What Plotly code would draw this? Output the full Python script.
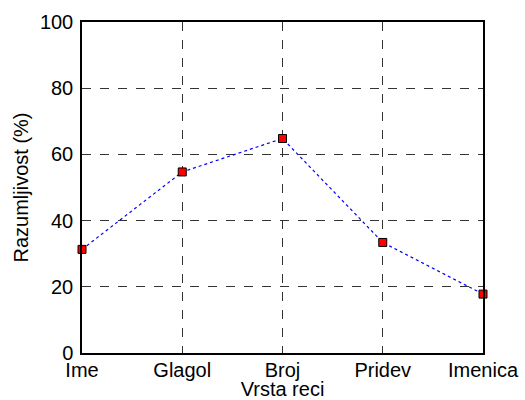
import plotly.graph_objects as go

categories = ["Ime", "Glagol", "Broj", "Pridev", "Imenica"]
razumljivost = [31.3, 54.7, 64.8, 33.4, 17.8]
y_ticks = [0, 20, 40, 60, 80, 100]

fig = go.Figure()
fig.add_trace(go.Scatter(
    x=list(range(len(categories))), y=razumljivost,
    mode="lines+markers",
    line=dict(color="blue", width=1.2, dash="dot"),
    marker=dict(symbol="square", size=8, color="red", line=dict(color="black", width=1)),
    cliponaxis=False,
))

FONT = "Liberation Sans, Arial"
axis_common = dict(
    showline=True, linecolor="black", linewidth=1.5, mirror=True,
    showgrid=True, gridcolor="#333333", griddash="dash", gridwidth=1,
    zeroline=False, ticks="", automargin=False,
    tickfont=dict(family=FONT, size=20, color="black"),
)

fig.update_layout(
    width=525, height=400,
    margin=dict(l=82, r=42, t=22, b=47),
    plot_bgcolor="white", paper_bgcolor="white",
    showlegend=False,
    font=dict(family=FONT, size=20, color="black"),
    xaxis=dict(
        range=[0, 4], tickvals=list(range(len(categories))), ticktext=categories,
        title=dict(text="Vrsta reci", standoff=4, font=dict(size=20)),
        ticklabelstandoff=-2,
        **axis_common,
    ),
    yaxis=dict(
        range=[0, 100], tickvals=y_ticks,
        title=dict(text="Razumljivost (%)", standoff=6, font=dict(size=20)),
        ticklabelstandoff=3,
        **axis_common,
    ),
)

fig.write_html("out.html", config={"displayModeBar": False},
               post_script="document.body.style.margin='0px';")
